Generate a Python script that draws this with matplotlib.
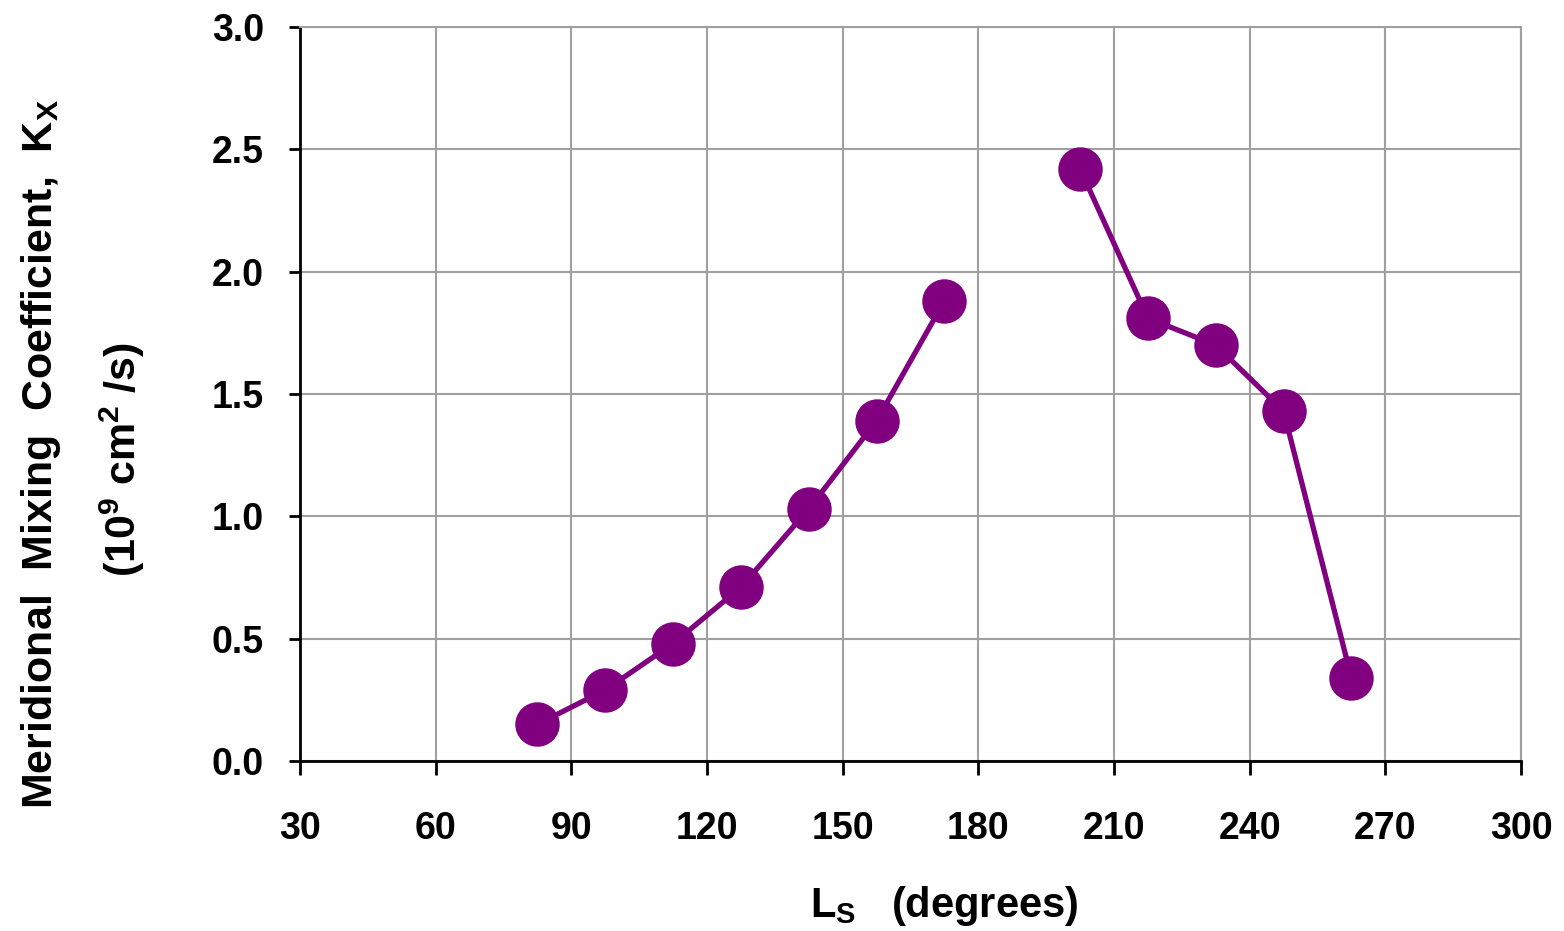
import numpy as np
import matplotlib
matplotlib.use("Agg")
import matplotlib.pyplot as plt

plt.rcParams['font.family'] = ['Liberation Sans', 'DejaVu Sans']
plt.rcParams['font.weight'] = 'bold'
plt.rcParams['mathtext.fontset'] = 'custom'
plt.rcParams['mathtext.rm'] = 'Liberation Sans:bold'
plt.rcParams['mathtext.bf'] = 'Liberation Sans:bold'
plt.rcParams['mathtext.default'] = 'rm'

# Ls (degrees) and mixing coefficient Kx (1e9 cm^2/s); NaN splits the two arcs
ls_deg = [82.5, 97.5, 112.5, 127.5, 142.5, 157.5, 172.5, np.nan,
          202.5, 217.5, 232.5, 247.5, 262.5]
kx = [0.15, 0.29, 0.48, 0.71, 1.03, 1.39, 1.88, np.nan,
      2.42, 1.81, 1.70, 1.43, 0.34]

xticks = [30, 60, 90, 120, 150, 180, 210, 240, 270, 300]
yticks = [0.0, 0.5, 1.0, 1.5, 2.0, 2.5, 3.0]

purple = '#800080'
grey = '#a0a0a0'

fig = plt.figure(figsize=(15.64, 9.31), dpi=100)
ax = fig.add_axes([0.1918, 0.1826, 0.9725 - 0.1918, 0.971 - 0.1826])

ax.plot(ls_deg, kx, color=purple, lw=3.8, marker='o', ms=31,
        mfc=purple, mec=purple, zorder=3, clip_on=False)

ax.set_xlim(30, 300)
ax.set_ylim(0, 3)
ax.set_xticks(xticks)
ax.set_yticks(yticks)
ax.set_yticklabels([f"{v:.1f}" for v in yticks])
ax.grid(True, color=grey, lw=1.5)
ax.set_axisbelow(True)

for s in ['top', 'right']:
    ax.spines[s].set_color(grey)
    ax.spines[s].set_linewidth(1.5)
for s in ['left', 'bottom']:
    ax.spines[s].set_color('black')
    ax.spines[s].set_linewidth(2)

ax.tick_params(axis='x', direction='out', length=10, width=2, pad=26,
               labelsize=27)
ax.tick_params(axis='y', direction='out', length=8, width=2, pad=18,
               labelsize=27)
for lab in ax.get_xticklabels() + ax.get_yticklabels():
    lab.set_fontweight('bold')

fig.text(0.604, 0.027, r"L$_{S}$   (degrees)", ha='center', va='center',
         fontsize=30, fontweight='bold')
fig.text(0.026, 0.512, r"Meridional  Mixing  Coefficient,  K$_{X}$",
         rotation=90, ha='center', va='center', fontsize=31, fontweight='bold')
fig.text(0.078, 0.506, r"(10$^{9}$ cm$^{2}$ /s)",
         rotation=90, ha='center', va='center', fontsize=31, fontweight='bold')

fig.savefig("out.png", dpi=100)
